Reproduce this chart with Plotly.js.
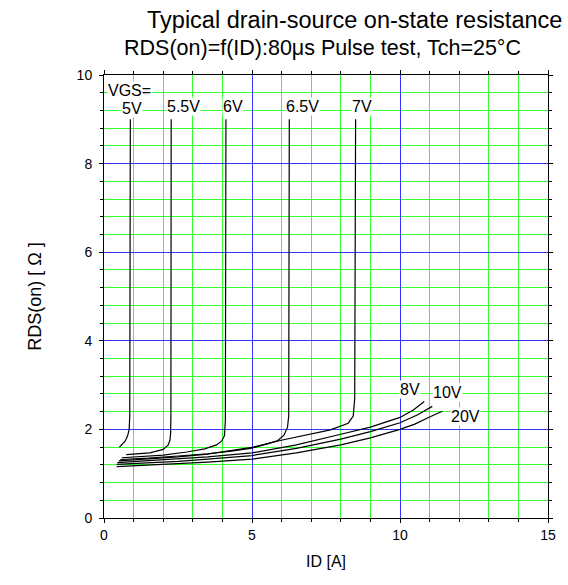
<!DOCTYPE html>
<html>
<head>
<meta charset="utf-8">
<script src="https://cdn.plot.ly/plotly-3.0.1.min.js"></script>
<style>html,body{margin:0;padding:0;background:#fff;}#chart{width:568px;height:585px;}</style>
</head>
<body>
<div id="chart"></div>
<script>
// ID [A] and RDS(on) [Ω], one pair of arrays per VGS curve
const vgsLabels = ["5V", "5.5V", "6V", "6.5V", "7V", "8V", "10V", "20V"];

const id_5V   = [0.52, 0.62, 0.72, 0.80, 0.85, 0.87, 0.88, 0.89];
const rds_5V  = [1.60, 1.66, 1.74, 1.86, 2.00, 2.30, 5.00, 9.00];

const id_5_5V  = [0.75, 0.98, 1.55, 2.00, 2.17, 2.23, 2.25, 2.26, 2.27];
const rds_5_5V = [1.43, 1.44, 1.47, 1.55, 1.65, 1.76, 1.91, 2.30, 9.00];

const id_6V   = [0.60, 1.20, 2.00, 2.80, 3.40, 3.80, 3.98, 4.07, 4.10, 4.12];
const rds_6V  = [1.36, 1.38, 1.42, 1.49, 1.56, 1.65, 1.74, 1.86, 2.20, 9.00];

const id_6_5V  = [0.55, 1.50, 2.50, 3.50, 4.30, 4.95, 5.40, 5.85, 6.08, 6.20, 6.24, 6.26];
const rds_6_5V = [1.32, 1.35, 1.40, 1.45, 1.51, 1.57, 1.65, 1.74, 1.87, 2.05, 2.30, 9.00];

const id_7V   = [0.50, 1.50, 2.50, 3.50, 4.30, 5.05, 5.95, 7.05, 7.65, 8.25, 8.42, 8.47, 8.50];
const rds_7V  = [1.29, 1.33, 1.38, 1.44, 1.52, 1.60, 1.75, 1.91, 1.99, 2.14, 2.30, 2.70, 9.00];

const id_8V   = [0.45, 1.50, 2.50, 3.50, 5.00, 6.50, 8.00, 9.00, 10.00, 10.45, 10.82];
const rds_8V  = [1.25, 1.29, 1.33, 1.38, 1.47, 1.65, 1.89, 2.05, 2.27, 2.44, 2.63];

const id_10V  = [0.43, 1.50, 2.50, 3.50, 5.00, 6.50, 8.00, 9.00, 10.00, 10.60, 11.09];
const rds_10V = [1.21, 1.24, 1.28, 1.33, 1.41, 1.57, 1.78, 1.95, 2.15, 2.33, 2.52];

const id_20V  = [0.43, 1.50, 2.50, 3.50, 5.00, 6.50, 8.00, 9.00, 10.00, 10.50, 11.00, 11.43];
const rds_20V = [1.16, 1.19, 1.22, 1.26, 1.33, 1.47, 1.65, 1.81, 2.00, 2.12, 2.28, 2.41];

// label anchor positions (data coordinates)
const labelText = ["VGS=", "5V", "5.5V", "6V", "6.5V", "7V", "8V", "10V", "20V"];
const labelX    = [0.85, 0.95, 2.67, 4.36, 6.71, 8.72, 10.35, 11.59, 12.2];
const labelY    = [9.64, 9.25, 9.30, 9.30, 9.30, 9.30, 2.90, 2.84, 2.29];

const seriesX = [id_5V, id_5_5V, id_6V, id_6_5V, id_7V, id_8V, id_10V, id_20V];
const seriesY = [rds_5V, rds_5_5V, rds_6V, rds_6_5V, rds_7V, rds_8V, rds_10V, rds_20V];

const FONT = "Liberation Sans, Arial, sans-serif";

const traces = seriesX.map((xs, i) => ({
  x: xs, y: seriesY[i], name: vgsLabels[i],
  type: "scatter", mode: "lines",
  line: {color: "#000000", width: 1.2},
  hoverinfo: "skip"
}));

const annotations = labelText.map((t, i) => ({
  x: labelX[i], y: labelY[i], xref: "x", yref: "y",
  text: t, showarrow: false, bgcolor: "#ffffff", borderpad: 0,
  font: {family: FONT, size: 16, color: "#000"}
}));

annotations.push({
  xref: "paper", yref: "paper", x: 0.564, y: 1.124, xanchor: "center", yanchor: "middle",
  text: "Typical drain-source on-state resistance", showarrow: false,
  font: {family: FONT, size: 23.5, color: "#000"}
});
annotations.push({
  xref: "paper", yref: "paper", x: 0.492, y: 1.061, xanchor: "center", yanchor: "middle",
  text: "RDS(on)=f(ID):80μs Pulse test, Tch=25°C", showarrow: false,
  font: {family: FONT, size: 21.5, color: "#000"}
});

const axisCommon = {
  showline: true, linecolor: "#000", linewidth: 1, mirror: "allticks",
  ticks: "outside", ticklen: 4, tickcolor: "#000",
  showgrid: true, gridcolor: "#3333ff", gridwidth: 1,
  zeroline: false,
  tickfont: {family: FONT, size: 14, color: "#000"}
};

const layout = {
  width: 568, height: 585,
  margin: {l: 104, r: 20, t: 75, b: 67},
  paper_bgcolor: "#fff", plot_bgcolor: "#fff",
  showlegend: false,
  xaxis: Object.assign({}, axisCommon, {
    range: [0, 15], dtick: 5, tick0: 0,
    minor: {dtick: 1, showgrid: true, gridcolor: "#33ff33", gridwidth: 1, ticks: "outside", ticklen: 3, tickcolor: "#000"},
    title: {text: "ID [A]", standoff: 14, font: {family: FONT, size: 16, color: "#000"}}
  }),
  yaxis: Object.assign({}, axisCommon, {
    range: [0, 10], dtick: 2, tick0: 0, ticklabelstandoff: 4,
    minor: {dtick: 0.4, showgrid: true, gridcolor: "#33ff33", gridwidth: 1, ticks: "outside", ticklen: 3, tickcolor: "#000"},
    title: {text: "RDS(on) [ Ω ]", standoff: 30, font: {family: FONT, size: 18, color: "#000"}}
  }),
  annotations: annotations
};

Plotly.newPlot("chart", traces, layout, {staticPlot: true, displayModeBar: false});
</script>
</body>
</html>
